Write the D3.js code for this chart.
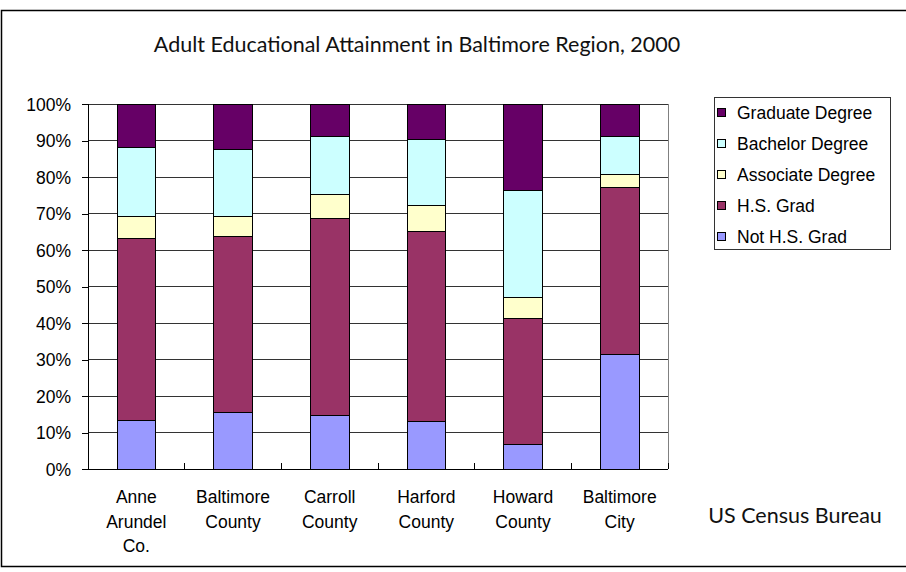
<!DOCTYPE html>
<meta charset="utf-8">
<style>
body{ margin:0; background:#fff; }
.axis text{ font: 17.5px "Liberation Sans", Arial, sans-serif; fill:#000; }
.axis path, .axis line{ fill:none; stroke:#000; shape-rendering:crispEdges; }
.grid line{ stroke:#333; shape-rendering:crispEdges; }
.bar{ stroke:#000; stroke-width:1; shape-rendering:crispEdges; }
.legend text{ font: 17.5px "Liberation Sans", Arial, sans-serif; }
.title, .source{ font-family: Lato, "Open Sans", sans-serif; fill:#111; }
</style>
<svg class="chart"></svg>
<script src="https://cdn.jsdelivr.net/npm/d3@7/dist/d3.min.js"></script>
<script>
var categories = ["Anne Arundel Co.", "Baltimore County", "Carroll County", "Harford County", "Howard County", "Baltimore City"];
var labelLines = [["Anne","Arundel","Co."], ["Baltimore","County"], ["Carroll","County"], ["Harford","County"], ["Howard","County"], ["Baltimore","City"]];

// stack order, bottom to top
var keys = ["Not H.S. Grad", "H.S. Grad", "Associate Degree", "Bachelor Degree", "Graduate Degree"];
var colors = ["#9999ff", "#993366", "#ffffcc", "#ccffff", "#660066"];

var notHS     = [13.4, 15.4, 14.6, 13.1,  6.8, 31.4];
var hsGrad    = [49.8, 48.2, 54.1, 52.1, 34.5, 45.7];
var associate = [ 5.9,  5.5,  6.6,  7.1,  5.6,  3.6];
var bachelor  = [19.1, 18.4, 15.7, 17.9, 29.3, 10.3];
var graduate  = [11.8, 12.5,  9.0,  9.8, 23.8,  9.0];

var series = [notHS, hsGrad, associate, bachelor, graduate];

var rows = categories.map(function(c, i){
	var r = {name: c};
	keys.forEach(function(k, j){ r[k] = series[j][i]; });
	return r;
});

var W = 906, H = 572;
var plot = {left: 88, right: 668, top: 104, bottom: 469};

var svg = d3.select(".chart").attr("width", W).attr("height", H);

// outer frame
svg.append("rect")
	.attr("x", 1.5).attr("y", 10.5)
	.attr("width", W + 10).attr("height", 556)
	.attr("fill", "none").attr("stroke", "#000").attr("stroke-width", 1.5);

var x = d3.scaleBand()
	.domain(categories)
	.range([plot.left, plot.right])
	.paddingInner(0.6)
	.paddingOuter(0.3);

var y = d3.scaleLinear()
	.domain([0, 1])
	.range([plot.bottom, plot.top]);

var stack = d3.stack().keys(keys).offset(d3.stackOffsetExpand);
var stacked = stack(rows);

// gridlines
svg.append("g").attr("class", "grid")
	.selectAll("line")
	.data(y.ticks(10))
	.enter().append("line")
		.attr("x1", plot.left).attr("x2", plot.right)
		.attr("y1", function(d){ return y(d); })
		.attr("y2", function(d){ return y(d); });

// right border of plot
svg.append("line")
	.attr("x1", plot.right).attr("x2", plot.right)
	.attr("y1", plot.top).attr("y2", plot.bottom)
	.attr("stroke", "#808080").attr("shape-rendering", "crispEdges");

svg.append("g").selectAll("g")
	.data(stacked)
	.enter().append("g")
		.attr("fill", function(d, i){ return colors[i]; })
	.selectAll("rect")
	.data(function(d){ return d; })
	.enter().append("rect")
		.attr("class", "bar")
		.attr("x", function(d){ return x(d.data.name); })
		.attr("y", function(d){ return y(d[1]); })
		.attr("height", function(d){ return y(d[0]) - y(d[1]); })
		.attr("width", x.bandwidth());

// y axis
svg.append("g")
	.attr("class", "y axis")
	.attr("transform", "translate(" + plot.left + ",0)")
	.call(d3.axisLeft(y).ticks(10).tickSize(6).tickPadding(11).tickFormat(d3.format(".0%")))
	.call(function(g){ g.selectAll("text").attr("dy", "0.36em"); });

// x axis: tick marks at category boundaries, pointing up
var xAxis = svg.append("g").attr("class", "x axis");
xAxis.append("line")
	.attr("x1", plot.left).attr("x2", plot.right)
	.attr("y1", plot.bottom).attr("y2", plot.bottom);
xAxis.selectAll(".tk")
	.data(categories)
	.enter().append("line")
		.attr("class", "tk")
		.attr("x1", function(d){ return x(d) - x.step() * x.paddingOuter() + x.step(); })
		.attr("x2", function(d){ return x(d) - x.step() * x.paddingOuter() + x.step(); })
		.attr("y1", plot.bottom).attr("y2", plot.bottom - 6);

var lbl = xAxis.selectAll(".lbl")
	.data(categories)
	.enter().append("text")
		.attr("class", "lbl")
		.attr("text-anchor", "middle")
		.attr("x", function(d){ return x(d) + x.bandwidth() / 2; })
		.attr("y", 503);
lbl.selectAll("tspan")
	.data(function(d, i){ return labelLines[i]; })
	.enter().append("tspan")
		.attr("x", function(){ var p = this.parentNode; return p.getAttribute("x"); })
		.attr("dy", function(d, i){ return i === 0 ? 0 : 24.5; })
		.text(function(d){ return d; });

// legend
var legend = svg.append("g").attr("class", "legend");
legend.append("rect")
	.attr("x", 714.5).attr("y", 97.5)
	.attr("width", 176).attr("height", 152)
	.attr("fill", "#fff").attr("stroke", "#333");

var legendKeys = keys.slice().reverse();
var item = legend.selectAll(".item")
	.data(legendKeys)
	.enter().append("g")
		.attr("class", "item")
		.attr("transform", function(d, i){ return "translate(0," + (113 + i * 31) + ")"; });
item.append("rect")
	.attr("x", 717.5).attr("y", -4.5)
	.attr("width", 8).attr("height", 8)
	.attr("fill", function(d){ return colors[keys.indexOf(d)]; })
	.attr("stroke", "#000");
item.append("text")
	.attr("x", 737).attr("dy", "0.36em")
	.text(function(d){ return d; });

svg.append("text")
	.attr("class", "title")
	.attr("x", 417).attr("y", 52)
	.attr("text-anchor", "middle")
	.style("font-size", "21.5px")
	.text("Adult Educational Attainment in Baltimore Region, 2000");

svg.append("text")
	.attr("class", "source")
	.attr("x", 795).attr("y", 523)
	.attr("text-anchor", "middle")
	.style("font-size", "21.5px")
	.text("US Census Bureau");
</script>
